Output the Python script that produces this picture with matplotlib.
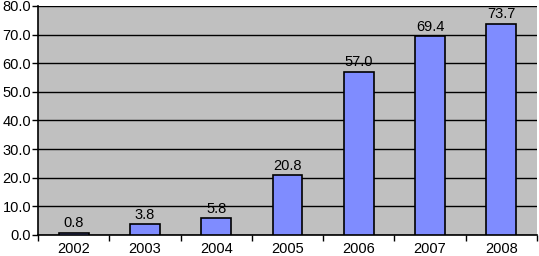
import matplotlib
matplotlib.use("Agg")
import matplotlib.pyplot as plt
import numpy as np

years = ["2002", "2003", "2004", "2005", "2006", "2007", "2008"]
values = [0.8, 3.8, 5.8, 20.8, 57.0, 69.4, 73.7]
y_ticks = [0, 10, 20, 30, 40, 50, 60, 70, 80]

plt.rcParams['font.family'] = ['Liberation Sans', 'DejaVu Sans']

fig = plt.figure(figsize=(5.39, 2.56), dpi=100)
W, H = 539, 256
ax = fig.add_axes([38 / W, 1 - 235 / H, (537 - 38) / W, (235 - 6) / H])
ax.set_facecolor('#c0c0c0')

x = np.arange(len(years))
ax.bar(x, values, width=0.42, color='#7f8cff', edgecolor='black', linewidth=1.2, zorder=3)
for xi, v in zip(x, values):
    ax.text(xi, v + 0.9, f"{v:.1f}", ha='center', va='bottom', fontsize=10.5, zorder=4)

ax.set_xlim(-0.5, len(years) - 0.5)
ax.set_ylim(0, 80)
ax.set_yticks(y_ticks)
ax.set_yticklabels([f"{t:.1f}" for t in y_ticks], fontsize=10.5)
ax.yaxis.grid(True, color='black', linewidth=1.0, zorder=1)
ax.set_axisbelow(True)
ax.tick_params(axis='y', direction='out', length=4, width=1, pad=1)

ax.set_xticks(np.arange(-0.5, len(years), 1.0))
ax.set_xticklabels([])
ax.set_xticks(x, minor=True)
ax.set_xticklabels(years, minor=True, fontsize=10.5)
ax.tick_params(axis='x', which='major', direction='out', length=4, width=1)
ax.tick_params(axis='x', which='minor', length=0, pad=5)

for side in ['top', 'right']:
    ax.spines[side].set_visible(False)
ax.spines['left'].set_linewidth(1.2)
ax.spines['bottom'].set_linewidth(1.2)

fig.savefig("out.png", dpi=100)
